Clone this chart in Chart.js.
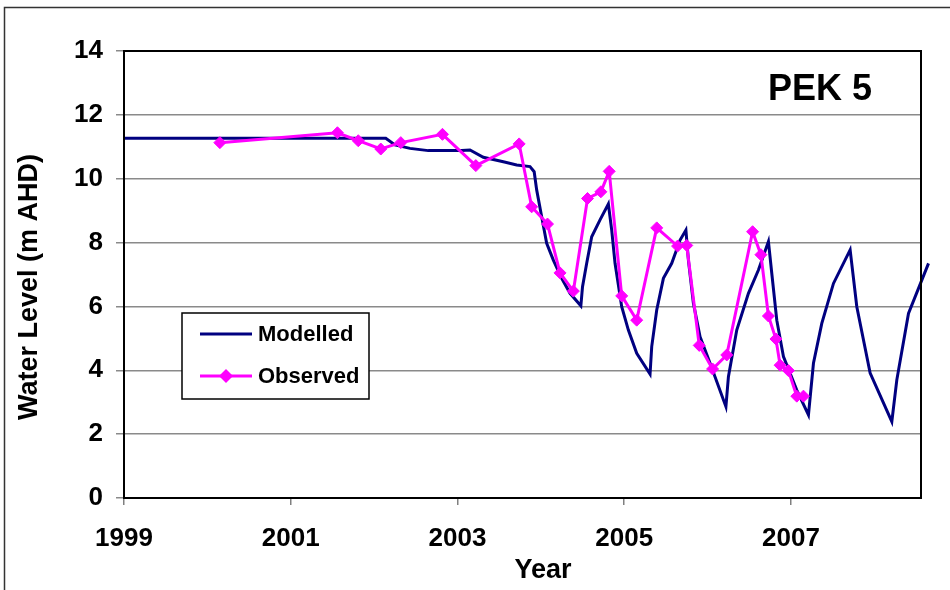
<!DOCTYPE html>
<html>
<head>
<meta charset="utf-8">
<title>PEK 5 water level</title>
<script src="https://cdn.jsdelivr.net/npm/chart.js@4/dist/chart.umd.min.js"></script>
<style>
  html, body { margin: 0; padding: 0; background: #fff; }
  #wrap { width: 950px; height: 590px; }
</style>
</head>
<body>
<div id="wrap"><canvas id="pek5" width="950" height="590"></canvas></div>
<script>
// Modelled bore hydrograph (decimal year, m AHD)
const modYears = [1999.00, 2002.14, 2002.25, 2002.43, 2002.65, 2003.05, 2003.15, 2003.31, 2003.55, 2003.71,
  2003.87, 2003.92, 2003.95, 2004.01, 2004.07, 2004.15, 2004.25, 2004.35, 2004.48, 2004.50,
  2004.55, 2004.61, 2004.71, 2004.81, 2004.85, 2004.89, 2004.97, 2005.05, 2005.15, 2005.31,
  2005.33, 2005.39, 2005.47, 2005.57, 2005.67, 2005.74, 2005.77, 2005.83, 2005.91, 2006.03,
  2006.22, 2006.25, 2006.35, 2006.49, 2006.61, 2006.73, 2006.77, 2006.83, 2006.91, 2007.07,
  2007.21, 2007.27, 2007.37, 2007.51, 2007.71, 2007.79, 2007.95, 2008.21, 2008.27, 2008.41, 2008.65];
const modLevels = [11.27, 11.27, 11.06, 10.95, 10.88, 10.88, 10.90, 10.67, 10.53, 10.43,
  10.38, 10.22, 9.65, 8.81, 7.98, 7.45, 6.88, 6.41, 6.02, 6.62,
  7.35, 8.18, 8.71, 9.21, 8.39, 7.35, 5.99, 5.26, 4.53, 3.88,
  4.74, 5.89, 6.88, 7.35, 8.08, 8.39, 7.45, 6.10, 5.05, 4.22,
  2.86, 3.80, 5.26, 6.41, 7.14, 8.03, 7.04, 5.57, 4.43, 3.38,
  2.60, 4.22, 5.47, 6.72, 7.77, 5.99, 3.91, 2.39, 3.70, 5.78, 7.35];

// Observed readings
const obsYears = [2000.15, 2001.56, 2001.81, 2002.08, 2002.32, 2002.82, 2003.22, 2003.74, 2003.89, 2004.08,
  2004.23, 2004.39, 2004.56, 2004.72, 2004.82, 2004.97, 2005.15, 2005.39, 2005.64, 2005.75,
  2005.90, 2006.06, 2006.23, 2006.54, 2006.64, 2006.73, 2006.82, 2006.87, 2006.97, 2007.07, 2007.15];
const obsLevels = [11.13, 11.44, 11.19, 10.93, 11.13, 11.39, 10.41, 11.09, 9.12, 8.58,
  7.05, 6.48, 9.38, 9.59, 10.23, 6.33, 5.57, 8.46, 7.89, 7.91,
  4.78, 4.04, 4.48, 8.34, 7.62, 5.70, 4.98, 4.16, 3.99, 3.19, 3.19];

const yearTicks = [1999, 2001, 2003, 2005, 2007];
const seriesNames = ['Modelled', 'Observed'];

const FONT = "'Liberation Sans', Arial, sans-serif";
const NAVY = '#000080';
const MAGENTA = '#ff00ff';

const pts = (xs, ys) => xs.map((x, i) => ({ x, y: ys[i] }));

// frame, titles, the well label and the boxed legend
const decor = {
  id: 'decor',
  afterDraw(chart) {
    const { ctx, chartArea: a } = chart;
    ctx.save();
    ctx.strokeStyle = '#000';
    ctx.lineWidth = 2;
    ctx.strokeRect(a.left, a.top, a.right - a.left, a.bottom - a.top);

    ctx.lineWidth = 1.5;
    ctx.strokeStyle = '#333';
    ctx.beginPath();
    ctx.moveTo(4.5, chart.height);
    ctx.lineTo(4.5, 7.5);
    ctx.lineTo(chart.width, 7.5);
    ctx.stroke();

    ctx.fillStyle = '#000';
    ctx.textAlign = 'center';
    ctx.textBaseline = 'middle';
    ctx.font = 'bold 27px ' + FONT;
    ctx.fillText('Year', 543, 571);
    ctx.save();
    ctx.translate(30, 287);
    ctx.rotate(-Math.PI / 2);
    ctx.fillText('Water Level (m AHD)', 0, 0);
    ctx.restore();

    ctx.font = 'bold 36px ' + FONT;
    ctx.fillText('PEK 5', 820, 90);

    // legend
    const lx = 182, ly = 313, lw = 187, lh = 86;
    ctx.fillStyle = '#fff';
    ctx.fillRect(lx, ly, lw, lh);
    ctx.strokeStyle = '#000';
    ctx.lineWidth = 1.5;
    ctx.strokeRect(lx, ly, lw, lh);
    const rows = [{ y: 334, ds: chart.data.datasets[1] }, { y: 376, ds: chart.data.datasets[0] }];
    ctx.font = 'bold 22px ' + FONT;
    ctx.textAlign = 'left';
    rows.forEach(r => {
      ctx.strokeStyle = r.ds.borderColor;
      ctx.lineWidth = 3;
      ctx.beginPath();
      ctx.moveTo(200, r.y);
      ctx.lineTo(252, r.y);
      ctx.stroke();
      if (r.ds.pointRadius > 0) {
        ctx.fillStyle = r.ds.backgroundColor;
        ctx.beginPath();
        ctx.moveTo(226, r.y - 7);
        ctx.lineTo(233, r.y);
        ctx.lineTo(226, r.y + 7);
        ctx.lineTo(219, r.y);
        ctx.closePath();
        ctx.fill();
      }
      ctx.fillStyle = '#000';
      ctx.fillText(r.ds.label, 258, r.y + 1);
    });
    ctx.restore();
  }
};

new Chart(document.getElementById('pek5'), {
  type: 'scatter',
  data: {
    datasets: [
      {
        label: seriesNames[1],
        data: pts(obsYears, obsLevels),
        showLine: true,
        borderColor: MAGENTA,
        backgroundColor: MAGENTA,
        borderWidth: 3,
        pointStyle: 'rectRot',
        pointRadius: 6,
        pointBorderWidth: 1,
        order: 1
      },
      {
        label: seriesNames[0],
        data: pts(modYears, modLevels),
        showLine: true,
        borderColor: NAVY,
        backgroundColor: NAVY,
        borderWidth: 3,
        pointRadius: 0,
        clip: { left: 0, top: 0, right: 9, bottom: 0 },
        order: 2
      }
    ]
  },
  options: {
    responsive: false,
    animation: false,
    devicePixelRatio: 1,
    layout: { padding: { left: 0, top: 51, right: 29, bottom: 0 } },
    plugins: { legend: { display: false }, tooltip: { enabled: false } },
    scales: {
      x: {
        type: 'linear',
        min: 1999,
        max: 2008.56,
        afterFit: s => { s.height = 92; },
        afterBuildTicks: s => { s.ticks = yearTicks.map(v => ({ value: v })); },
        border: { color: '#000', width: 2 },
        grid: { drawOnChartArea: false, drawTicks: true, tickLength: 7, color: '#808080', lineWidth: 1.5 },
        ticks: {
          padding: 18,
          maxRotation: 0,
          color: '#000',
          font: { family: FONT, size: 26, weight: 'bold' },
          callback: v => String(v)
        }
      },
      y: {
        min: 0,
        max: 14,
        afterFit: s => { s.width = 124; },
        border: { color: '#000', width: 2 },
        grid: { color: '#8a8a8a', lineWidth: 1.5, tickLength: 8 },
        ticks: {
          stepSize: 2,
          padding: 13,
          color: '#000',
          font: { family: FONT, size: 26, weight: 'bold' }
        }
      }
    }
  },
  plugins: [decor]
});
</script>
</body>
</html>
